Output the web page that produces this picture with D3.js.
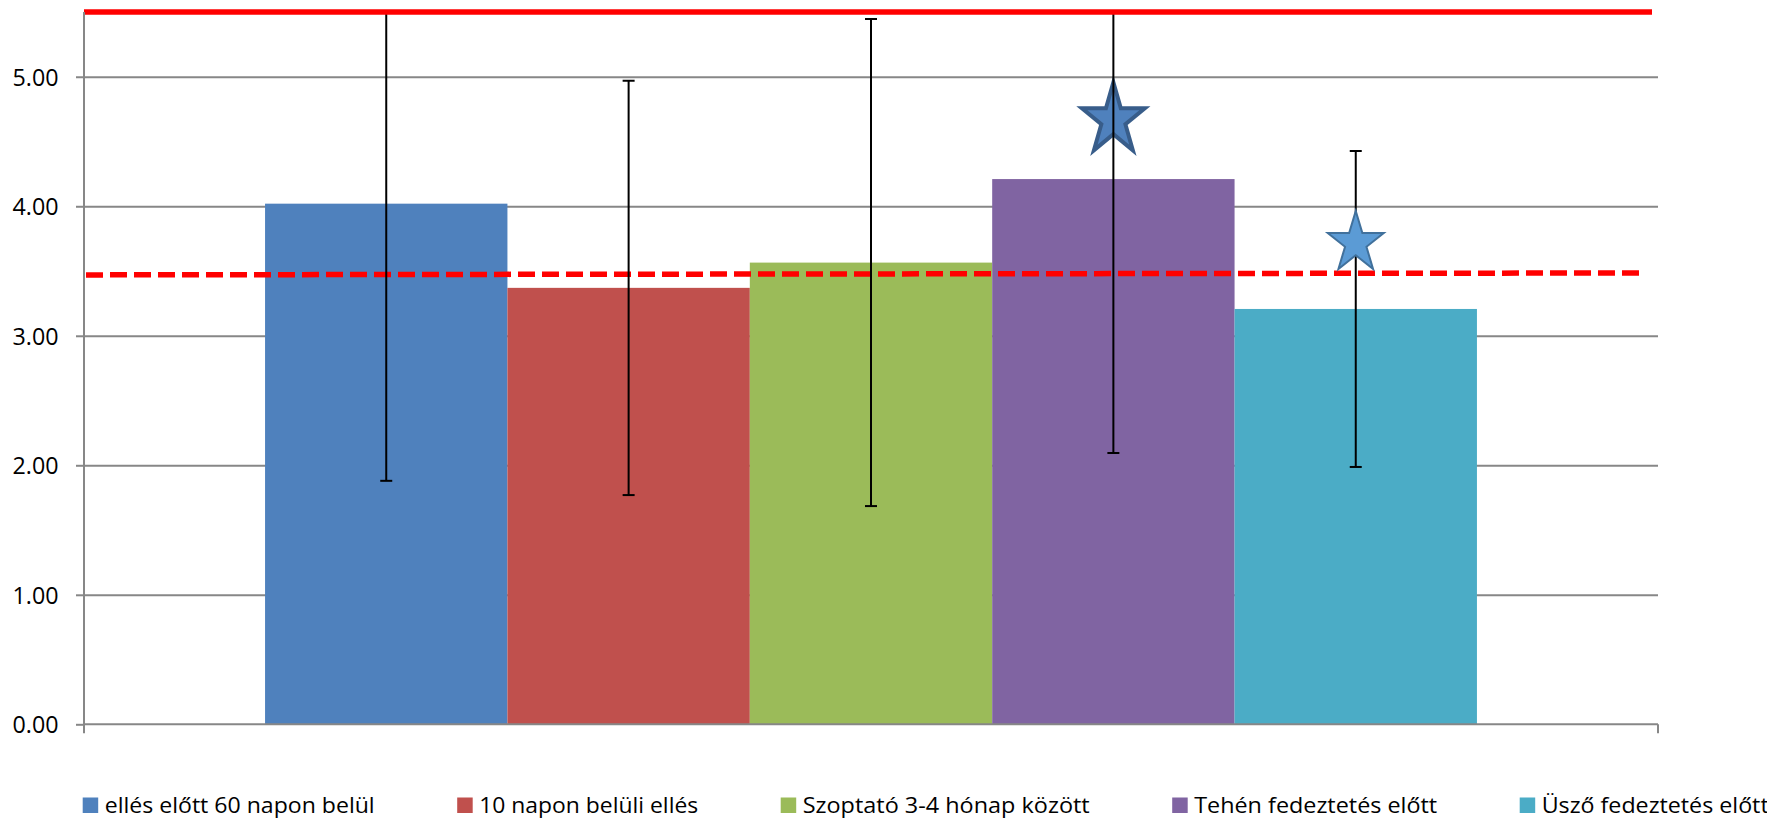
<!DOCTYPE html>
<html>
<head>
<meta charset="utf-8">
<script src="https://cdn.jsdelivr.net/npm/d3@7"></script>
<style>
  html, body { margin: 0; padding: 0; background: #ffffff; }
  svg { display: block; }
  text { font-family: "Open Sans", "Noto Sans", sans-serif; font-weight: 400; fill: #000; }
</style>
</head>
<body>
<svg id="chart" width="1767" height="818"></svg>
<script>
// ---------------- data ----------------
const seriesNames = [
  "ellés előtt 60 napon belül",
  "10 napon belüli ellés",
  "Szoptató 3-4 hónap között",
  "Tehén fedeztetés előtt",
  "Üsző fedeztetés előtt"
];
const means  = [4.02, 3.37, 3.565, 4.21, 3.207];
const errors = [2.14, 1.60, 1.88, 2.115, 1.22];
const yTicks = [0, 1, 2, 3, 4, 5];
const yMax = 5.5;
const solidRefValue = 5.5;          // solid red reference line
const dashedRefValues = [3.47, 3.485]; // dashed red reference line (start, end)
// significance stars: series index and vertical position (value at star centre)
const starSeries = [3, 4];
const starValues = [4.695, 3.74];

// ---------------- style / layout ----------------
const colors = ["#4F81BD", "#C0504D", "#9BBB59", "#8064A2", "#4BACC6"];
const plot = { left: 84, right: 1658, top: 12, bottom: 724.3 };
const starStyle = [
  { w: 63, h: 68, fill: "#4F81BD", stroke: "#385D8A", sw: 4, above: false },
  { w: 56, h: 58, fill: "#5B9BD5", stroke: "#41719C", sw: 2, above: true }
];
const legendLayout = { x0: 82.7, y: 813, box: 15.5, gapBox: 6.5, gapItem: 82.5,
                       textWidths: [270, 219, 287, 243, 227], fontSize: 22 };

const svg = d3.select("#chart");
svg.append("rect").attr("width", 1767).attr("height", 818).attr("fill", "#fff");

const y = d3.scaleLinear().domain([0, yMax]).range([plot.bottom, plot.top]);
const x = d3.scaleBand().domain(seriesNames).range([plot.left, plot.right])
  .paddingInner(0).paddingOuter(0.747);
const lineX = d3.scaleLinear().domain([0, 1]);

svg.append("defs").append("clipPath").attr("id", "plotclip")
  .append("rect").attr("x", plot.left - 20).attr("y", plot.top)
  .attr("width", plot.right - plot.left + 40).attr("height", plot.bottom - plot.top);

// gridlines
const grid = svg.append("g").attr("transform", `translate(${plot.left},0)`)
  .call(d3.axisLeft(y).tickValues(yTicks.filter(d => d > 0))
        .tickSize(-(plot.right - plot.left)).tickFormat(""));
grid.select(".domain").remove();
grid.selectAll("line").attr("stroke", "#878787").attr("stroke-width", 2);

// bars
svg.append("g").selectAll("rect").data(seriesNames).join("rect")
  .attr("x", d => x(d))
  .attr("width", x.bandwidth())
  .attr("y", (d, i) => y(means[i]))
  .attr("height", (d, i) => y(0) - y(means[i]))
  .attr("fill", (d, i) => colors[i]);

// dashed reference line
const dashX = lineX.copy().range([86, 1641]);
svg.append("path")
  .datum(dashedRefValues.map((v, i) => [dashX(i / (dashedRefValues.length - 1)), y(v)]))
  .attr("d", d3.line())
  .attr("fill", "none").attr("stroke", "#FF0000").attr("stroke-width", 5.5)
  .attr("stroke-dasharray", "17,7");

// star path generator (regular 5-point star stretched to a box)
function starPath(cx, cy, w, h) {
  const Rx = w / 1.902, Ry = h / 1.809;
  const top = cy - h / 2;
  const ccy = top + Ry;
  const inner = 0.382;
  const pts = [];
  for (let k = 0; k < 10; k++) {
    const a = -Math.PI / 2 + k * Math.PI / 5;
    const r = k % 2 === 0 ? 1 : inner;
    pts.push([cx + Math.cos(a) * r * Rx, ccy + Math.sin(a) * r * Ry]);
  }
  return "M" + pts.map(p => p.join(",")).join("L") + "Z";
}
function drawStars(above) {
  starSeries.forEach((si, k) => {
    const st = starStyle[k];
    if (st.above !== above) return;
    const cx = x(seriesNames[si]) + x.bandwidth() / 2;
    svg.append("path")
      .attr("d", starPath(cx, y(starValues[k]), st.w, st.h))
      .attr("fill", st.fill).attr("stroke", st.stroke)
      .attr("stroke-width", st.sw).attr("stroke-linejoin", "miter");
  });
}
drawStars(false);

// error bars
const eb = svg.append("g").attr("clip-path", "url(#plotclip)");
seriesNames.forEach((s, i) => {
  const cx = x(s) + x.bandwidth() / 2;
  const hi = means[i] + errors[i], lo = means[i] - errors[i];
  eb.append("line").attr("x1", cx).attr("x2", cx)
    .attr("y1", y(hi)).attr("y2", y(lo))
    .attr("stroke", "#000").attr("stroke-width", 2);
  [hi, lo].forEach(v => {
    if (v <= yMax) eb.append("line").attr("x1", cx - 6).attr("x2", cx + 6)
      .attr("y1", y(v)).attr("y2", y(v)).attr("stroke", "#000").attr("stroke-width", 2);
  });
});

drawStars(true);

// solid reference line
const solidX = lineX.copy().range([plot.left, 1652]);
svg.append("line")
  .attr("x1", solidX(0)).attr("x2", solidX(1))
  .attr("y1", y(solidRefValue)).attr("y2", y(solidRefValue))
  .attr("stroke", "#FF0000").attr("stroke-width", 5.5);

// y axis
const yAxis = svg.append("g").attr("transform", `translate(${plot.left},0)`)
  .call(d3.axisLeft(y).tickValues(yTicks).tickFormat(d3.format(".2f"))
        .tickSize(8).tickSizeOuter(0).tickPadding(0));
yAxis.select(".domain").remove();
yAxis.selectAll(".tick line").attr("stroke", "#878787").attr("stroke-width", 2);
yAxis.selectAll(".tick text")
  .attr("x", 58.5 - plot.left).attr("dy", "0.36em")
  .attr("font-size", 23).attr("text-anchor", "end")
  .attr("textLength", 46).attr("lengthAdjust", "spacingAndGlyphs")
  .style("font-family", "'Open Sans', 'Noto Sans', sans-serif");
svg.append("line").attr("x1", plot.left).attr("x2", plot.left)
  .attr("y1", plot.top).attr("y2", plot.bottom + 9)
  .attr("stroke", "#878787").attr("stroke-width", 2);

// x axis baseline with end ticks
svg.append("line").attr("x1", plot.left).attr("x2", plot.right)
  .attr("y1", y(0)).attr("y2", y(0))
  .attr("stroke", "#878787").attr("stroke-width", 2);
svg.append("line").attr("x1", plot.right).attr("x2", plot.right)
  .attr("y1", y(0)).attr("y2", y(0) + 9)
  .attr("stroke", "#878787").attr("stroke-width", 2);

// legend
const lg = svg.append("g");
let lx = legendLayout.x0;
seriesNames.forEach((s, i) => {
  lg.append("rect").attr("x", lx).attr("y", legendLayout.y - legendLayout.box)
    .attr("width", legendLayout.box).attr("height", legendLayout.box)
    .attr("fill", colors[i]);
  const tx = lx + legendLayout.box + legendLayout.gapBox;
  lg.append("text").attr("x", tx).attr("y", legendLayout.y)
    .attr("font-size", legendLayout.fontSize)
    .attr("textLength", legendLayout.textWidths[i])
    .attr("lengthAdjust", "spacingAndGlyphs")
    .text(s);
  lx = tx + legendLayout.textWidths[i] + legendLayout.gapItem;
});
</script>
</body>
</html>
